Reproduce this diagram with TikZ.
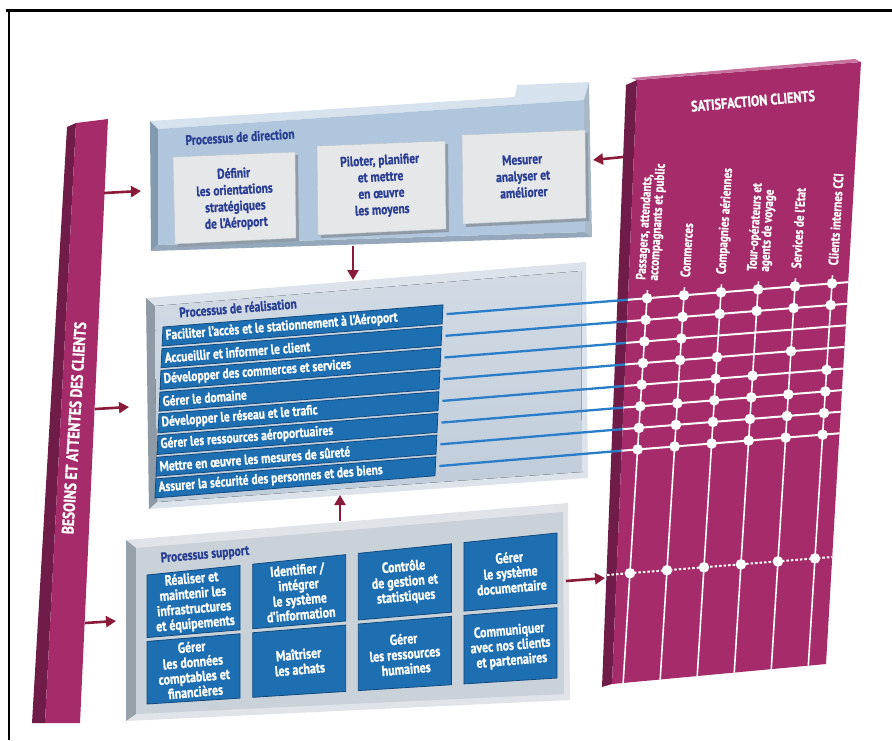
\documentclass[tikz,border=0pt]{standalone}
\usepackage{fontspec}
\newfontfamily\cf{PT Sans}[FakeStretch=0.82, FakeBold=1]
\usetikzlibrary{arrows.meta,calc}
\definecolor{mag}{HTML}{A52B6A}
\definecolor{magdark}{HTML}{701C49}
\definecolor{maglight}{HTML}{C9729F}
\definecolor{arrowred}{HTML}{8A1A3A}
\definecolor{barblue}{HTML}{1E6FB2}
\definecolor{barbluedark}{HTML}{114A80}
\definecolor{titleblue}{HTML}{2A3F94}
\definecolor{linkblue}{HTML}{2A7DC9}
\definecolor{dirface}{HTML}{AFC6DC}
\definecolor{dirlight}{HTML}{D6E3EE}
\definecolor{dirdark}{HTML}{8399AE}
\definecolor{reaface}{HTML}{BFCCD9}
\definecolor{realight}{HTML}{DCE3EA}
\definecolor{readark}{HTML}{8E9AA6}
\definecolor{supface}{HTML}{C9D1D9}
\definecolor{suplight}{HTML}{E0E4E8}
\definecolor{supdark}{HTML}{97A1AA}
\definecolor{boxface}{HTML}{E6E7E9}
\definecolor{boxshade}{HTML}{8F9BA7}
\tikzset{
  flow/.style={draw=arrowred, line width=2.6pt, -{Triangle[length=10pt,width=11pt,fill=arrowred]}},
  link/.style={draw=linkblue, line width=2.3pt},
  gridrow/.style={draw=white, line width=2pt},
  gridcol/.style={draw=white, line width=1.6pt},
  bartext/.style={text=white, font=\cf\bfseries\fontsize{14}{15}\selectfont, inner sep=0pt, anchor=west, rotate=4.5},
  dirtext/.style={text=titleblue, font=\cf\bfseries\fontsize{14}{16.5}\selectfont, align=center, rotate=3, inner sep=0pt},
  suptext/.style={text=white, font=\cf\bfseries\fontsize{14.5}{15}\selectfont, align=center, rotate=5, inner sep=0pt},
  ptitle/.style={text=titleblue, font=\cf\bfseries\fontsize{14}{15}\selectfont, inner sep=0pt},
  clabel/.style={text=white, font=\cf\bfseries\fontsize{13.5}{12.5}\selectfont, align=left, rotate=86.5, anchor=west, inner sep=0pt},
  bluebox/.style={fill=barblue, draw=barbluedark, line width=0.8pt},
}
\begin{document}
\begin{tikzpicture}[x=1pt,y=-1pt]
\useasboundingbox (0,0) rectangle (892,740);
\fill[white] (0,0) rectangle (892,740);
% frame lines
\draw[line width=2.2pt] (6,10.5) -- (892,10.5);
\draw[line width=2.2pt] (9,9.5) -- (9,740);

% ---------- left bar ----------
\fill[magdark] (67,127) -- (76,123) -- (45,723) -- (32,723) -- cycle;
\fill[mag] (76,123) -- (108,119) -- (80,723) -- (45,723) -- cycle;
\node[rotate=86.5, text=white, font=\cf\bfseries\fontsize{16.5}{18}\selectfont, inner sep=0pt] (besoins) at (74,428) {BESOINS ET ATTENTES DES CLIENTS};

% ---------- direction box ----------
\fill[dirlight] (150,121) -- (515,97) -- (517,85) -- (589,82) -- (584,100) -- (158,129) -- cycle;
\fill[dirdark] (150,121) -- (158,129) -- (158,245) -- (151,251) -- cycle;
\fill[dirface!85!black] (151,251) -- (158,245) -- (585,232) -- (592,237) -- cycle;
\fill[dirdark!70!white] (589,82) -- (592,237) -- (585,232) -- (584,100) -- cycle;
\fill[dirface] (158,129) -- (584,100) -- (585,232) -- (158,245) -- cycle;
\node[ptitle, rotate=3.5] (dirtitle) at (240,137) {Processus de direction};
% inner boxes
\fill[boxshade] (176,160) -- (298,155) -- (299,241) -- (178,247) -- cycle;
\fill[boxface, draw=boxshade!60!white] (173,157) -- (295,152) -- (296,238) -- (175,244) -- cycle;
\fill[boxshade] (320,149) -- (448,144) -- (449,232) -- (321,238) -- cycle;
\fill[boxface, draw=boxshade!60!white] (317,146) -- (445,141) -- (446,229) -- (318,235) -- cycle;
\fill[boxshade] (465,138) -- (588,133) -- (589,221) -- (466,227) -- cycle;
\fill[boxface, draw=boxshade!60!white] (462,135) -- (585,130) -- (586,218) -- (463,224) -- cycle;
\node[dirtext] (dir1) at (235,199) {Définir\\les orientations\\stratégiques\\de l’Aéroport};
\node[dirtext] (dir2) at (381,186) {Piloter, planifier\\et mettre\\en œuvre\\les moyens};
\node[dirtext] (dir3) at (523,176) {Mesurer\\analyser et\\améliorer};

% ---------- realisation box ----------
\fill[realight] (146,298) -- (586,262) -- (588,478) -- (149,509) -- cycle;
\fill[readark] (146,298) -- (155,306) -- (157,502) -- (149,509) -- cycle;
\fill[top color=reaface!70!white, bottom color=reaface] (155,306) -- (581,271) -- (582,472) -- (157,502) -- cycle;
\node[ptitle, rotate=4.5] (reatitle) at (238,308) {Processus de réalisation};
\foreach \i/\t in {0/{Faciliter l’accès et le stationnement à l’Aéroport},1/{Accueillir et informer le client},2/{Développer des commerces et services},3/{Gérer le domaine},4/{Développer le réseau et le trafic},5/{Gérer les ressources aéroportuaires},6/{Mettre en œuvre les mesures de sûreté},7/{Assurer la sécurité des personnes et des biens}}{
  \pgfmathsetmacro\va{21.7*\i}
  \pgfmathsetmacro\vb{\va+19}
  \pgfmathsetmacro\vm{\va+9.5}
  \path[bluebox] ({163-0.047*\va},{327+\va}) -- ({443-0.047*\va},{304.88+\va}) -- ({443-0.047*\vb},{304.88+\vb}) -- ({163-0.047*\vb},{327+\vb}) -- cycle;
  \node[bartext] (bar\i) at ({166-0.047*\vm},{326.6+\vm}) {\t};
  \coordinate (barE\i) at ({447-0.047*\vm},{304.6+\vm});
  \coordinate (panL\i) at ({631-0.062*21.6*\i},{299.5+21.6*\i});
}

% ---------- support box ----------
\fill[suplight] (126,540) -- (568,503) -- (570,700) -- (126,721) -- cycle;
\fill[supdark] (126,540) -- (136,548) -- (136,714) -- (126,721) -- cycle;
\fill[supface] (136,548) -- (563,512) -- (564,694) -- (136,714) -- cycle;
\node[ptitle, rotate=5] (suptitle) at (205,555) {Processus support};
\coordinate (sA) at (147,575);
\coordinate (sB) at (557,533);
\coordinate (sC) at (557,678);
\coordinate (sD) at (147,704);
\foreach \c in {0,...,3}{
  \foreach \r in {0,1}{
    \pgfmathsetmacro\sa{\c*0.2577}
    \pgfmathsetmacro\sb{\sa+0.227}
    \pgfmathsetmacro\ta{\r*0.515}
    \pgfmathsetmacro\tb{\ta+0.485}
    \pgfmathsetmacro\sm{\sa+0.1135}
    \pgfmathsetmacro\tm{\ta+0.2425}
    \path[bluebox] ($($(sA)!\sa!(sB)$)!\ta!($(sD)!\sa!(sC)$)$) -- ($($(sA)!\sb!(sB)$)!\ta!($(sD)!\sb!(sC)$)$) -- ($($(sA)!\sb!(sB)$)!\tb!($(sD)!\sb!(sC)$)$) -- ($($(sA)!\sa!(sB)$)!\tb!($(sD)!\sa!(sC)$)$) -- cycle;
    \coordinate (sm\c\r) at ($($(sA)!\sm!(sB)$)!\tm!($(sD)!\sm!(sC)$)$);
  }
}
\node[suptext] (sup1) at (sm00) {Réaliser et\\maintenir les\\infrastructures\\et équipements};
\node[suptext] (sup2) at (sm10) {Identifier /\\intégrer\\le système\\d’information};
\node[suptext] (sup3) at (sm20) {Contrôle\\de gestion et\\statistiques};
\node[suptext] (sup4) at (sm30) {Gérer\\le système\\documentaire};
\node[suptext] (sup5) at (sm01) {Gérer\\les données\\comptables et\\financières};
\node[suptext] (sup6) at (sm11) {Maîtriser\\les achats};
\node[suptext] (sup7) at (sm21) {Gérer\\les ressources\\humaines};
\node[suptext] (sup8) at (sm31) {Communiquer\\avec nos clients\\et partenaires};

% ---------- satisfaction panel ----------
\fill[magdark] (626,85) -- (637,80) -- (612,684) -- (602,687) -- cycle;
\fill[mag] (637,80) -- (861,62) -- (826,664) -- (612,684) -- cycle;
\fill[maglight] (631,78) -- (855,59) -- (861,62) -- (637,80) -- cycle;
\node[rotate=5, text=white, font=\cf\bfseries\fontsize{15}{16}\selectfont, inner sep=0pt] (sat) at (753,101) {SATISFACTION CLIENTS};
\foreach \j/\t in {0/{Passagers, attendants,\\accompagnants et public},1/{Commerces},2/{Compagnies aériennes},3/{Tour-opérateurs et\\agents de voyage},4/{Services de l’Etat},5/{Clients internes CCI}}{
  \pgfmathsetmacro\uu{22+37*\j}
  \node[clabel] (lab\j) at ({625+\uu+0.062*18},{300-0.08*\uu-18}) {\t};
}
% blue links
\foreach \i in {0,...,7}{ \draw[link] (barE\i) -- (panL\i); }
% grid
\foreach \j in {0,...,5}{
  \pgfmathsetmacro\uu{22+37*\j}
  \coordinate (colT\j) at ({625+\uu+0.062*8},{300-0.08*\uu-8});
  \coordinate (colB\j) at ({625+\uu-0.062*400},{300-0.08*\uu+400});
  \coordinate (s\j) at ({625+\uu-0.062*275},{300-0.08*\uu+275});
  \foreach \i in {0,...,7}{
    \coordinate (g\j-\i) at ({625+\uu-0.062*21.6*\i},{300-0.08*\uu+21.6*\i});
  }
}
\foreach \i in {0,...,7}{
  \coordinate (rowL\i) at ({610-0.062*21.6*\i},{301.2+21.6*\i});
  \coordinate (rowR\i) at ({865-0.062*21.6*\i},{280.8+21.6*\i});
}
\begin{scope}
  \clip (637,80) -- (861,62) -- (826,664) -- (612,684) -- cycle;
  \foreach \i in {0,...,7}{ \draw[gridrow] (rowL\i) -- (rowR\i); }
  \foreach \j in {0,...,5}{ \draw[gridcol] (colT\j) -- (colB\j); }
\end{scope}
\foreach \i/\cols in {0/{0,1,2,3,4,5},1/{0,1,2,3,4,5},2/{0,1},3/{0,1,2,4},4/{0,2,3,5},5/{0,1,2,3,4,5},6/{0,1,2,3,4,5},7/{0,1,2,3,4,5}}{
  \foreach \j in \cols { \fill[white] (g\j-\i) circle (5.3pt); }
}
\coordinate (supRowL) at (607,575);
\coordinate (supRowR) at (832,557);
\draw[white, line width=2pt, dash pattern=on 2.5pt off 2pt] (supRowL) -- (supRowR);
\foreach \j in {0,...,5}{ \fill[white] (s\j) circle (5.3pt); }

% ---------- arrows ----------
\coordinate (bA) at (104,193); \coordinate (dirW) at (141,191);
\coordinate (bB) at (95,409); \coordinate (reaW) at (129,407);
\coordinate (bC) at (85,623); \coordinate (supW) at (116,621);
\draw[flow] (bA) -- (dirW);
\draw[flow] (bB) -- (reaW);
\draw[flow] (bC) -- (supW);
\coordinate (dirS) at (353,246); \coordinate (reaN) at (353,280);
\draw[flow] (dirS) -- (reaN);
\coordinate (supN) at (340,521); \coordinate (reaS) at (340,495);
\draw[flow] (supN) -- (reaS);
\coordinate (panW1) at (623,157); \coordinate (dirE) at (593,160);
\draw[flow] (panW1) -- (dirE);
\coordinate (supE) at (566,581); \coordinate (panW2) at (605,578);
\draw[flow] (supE) -- (panW2);
\end{tikzpicture}
\end{document}
